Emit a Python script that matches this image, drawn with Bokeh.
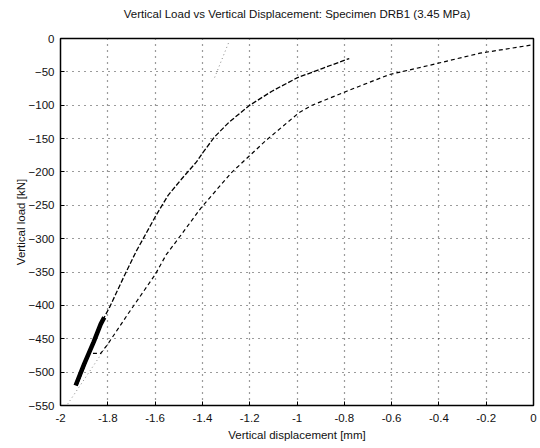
from bokeh.plotting import figure
from bokeh.models import FixedTicker, Range1d, Title
from bokeh.embed import file_html
from bokeh.resources import INLINE

# Loading curve (upper / left branch)
load_x = [-1.93, -1.88, -1.83, -1.79, -1.728, -1.68, -1.596, -1.545, -1.489, -1.425, -1.40, -1.35, -1.289, -1.204, -1.106, -1.0, -0.894, -0.779]
load_y = [-520, -475, -428, -401, -354, -319, -265, -235, -211, -185, -172, -148, -126, -101, -79, -59, -45, -30]

# Unloading curve (lower / right branch)
unload_x = [-0.013, -0.226, -0.438, -0.609, -0.79, -0.936, -0.991, -1.132, -1.277, -1.404, -1.502, -1.553, -1.6, -1.715, -1.8, -1.83, -1.864]
unload_y = [-10, -22, -40, -54, -79, -100, -111, -153, -201, -253, -300, -324, -354, -413, -458, -472, -472]

# Dense cyclic cluster near peak load
cluster_x = [-1.936, -1.90, -1.86, -1.83, -1.815]
cluster_y = [-520, -488, -455, -428, -418]

# Faint dotted traces
faint1_x = [-1.97, -1.79]
faint1_y = [-548, -453]
faint2_x = [-1.29, -1.35]
faint2_y = [-7, -60]

x_ticks = [-2, -1.8, -1.6, -1.4, -1.2, -1, -0.8, -0.6, -0.4, -0.2, 0]
x_tick_labels = ["-2", "-1.8", "-1.6", "-1.4", "-1.2", "-1", "-0.8", "-0.6", "-0.4", "-0.2", "0"]
y_ticks = [0, -50, -100, -150, -200, -250, -300, -350, -400, -450, -500, -550]

title_text = "Vertical Load vs Vertical Displacement: Specimen DRB1 (3.45 MPa)"

FONT = "Liberation Sans"

p = figure(width=540, height=448, output_backend="svg", toolbar_location=None,
           x_range=Range1d(-2, 0), y_range=Range1d(-550, 0),
           min_border_left=60, min_border_right=7, min_border_top=35, min_border_bottom=43)

# spacer between frame and title, then the title itself
p.add_layout(Title(text=" ", text_font_size="11px", standoff=0), "above")
p.add_layout(Title(text=title_text, align="center", text_font=FONT,
                   text_font_size="11.5px", text_font_style="normal",
                   text_color="#111111"), "above")

p.outline_line_color = "black"
p.outline_line_width = 1.5
p.background_fill_color = "white"
p.border_fill_color = "white"

p.xaxis.ticker = FixedTicker(ticks=x_ticks)
p.yaxis.ticker = FixedTicker(ticks=y_ticks)
p.xaxis.major_label_overrides = {t: l for t, l in zip(x_ticks, x_tick_labels)}
p.xaxis.axis_label = "Vertical displacement [mm]"
p.yaxis.axis_label = "Vertical load [kN]"

for ax in (p.xaxis, p.yaxis):
    ax.axis_label_text_font = FONT
    ax.axis_label_text_font_size = "11.5px"
    ax.axis_label_text_font_style = "normal"
    ax.axis_label_text_color = "#111111"
    ax.major_label_text_font = FONT
    ax.major_label_text_font_size = "11.5px"
    ax.major_label_text_color = "#111111"
    ax.major_tick_in = 4
    ax.major_tick_out = 0
    ax.minor_tick_line_color = None
    ax.axis_line_color = "black"
    ax.major_tick_line_color = "black"
p.xaxis.axis_label_standoff = 4
p.yaxis.axis_label_standoff = -1
p.xaxis.major_label_standoff = 8
p.yaxis.major_label_standoff = 6

p.grid.grid_line_color = "#222222"
p.grid.grid_line_dash = "1 5"
p.grid.grid_line_width = 1.2
p.grid.grid_line_alpha = 0.9

p.line(faint1_x, faint1_y, line_color="#888888", line_dash="1 3", line_width=1)
p.line(faint2_x, faint2_y, line_color="#888888", line_dash="1 3", line_width=1)
p.line(load_x, load_y, line_color="black", line_dash="5 2", line_width=1.3)
p.line(unload_x, unload_y, line_color="black", line_dash="4 3", line_width=1.2)
p.line(cluster_x, cluster_y, line_color="black", line_width=4.5)

open("out.html", "w").write(file_html(p, INLINE))
